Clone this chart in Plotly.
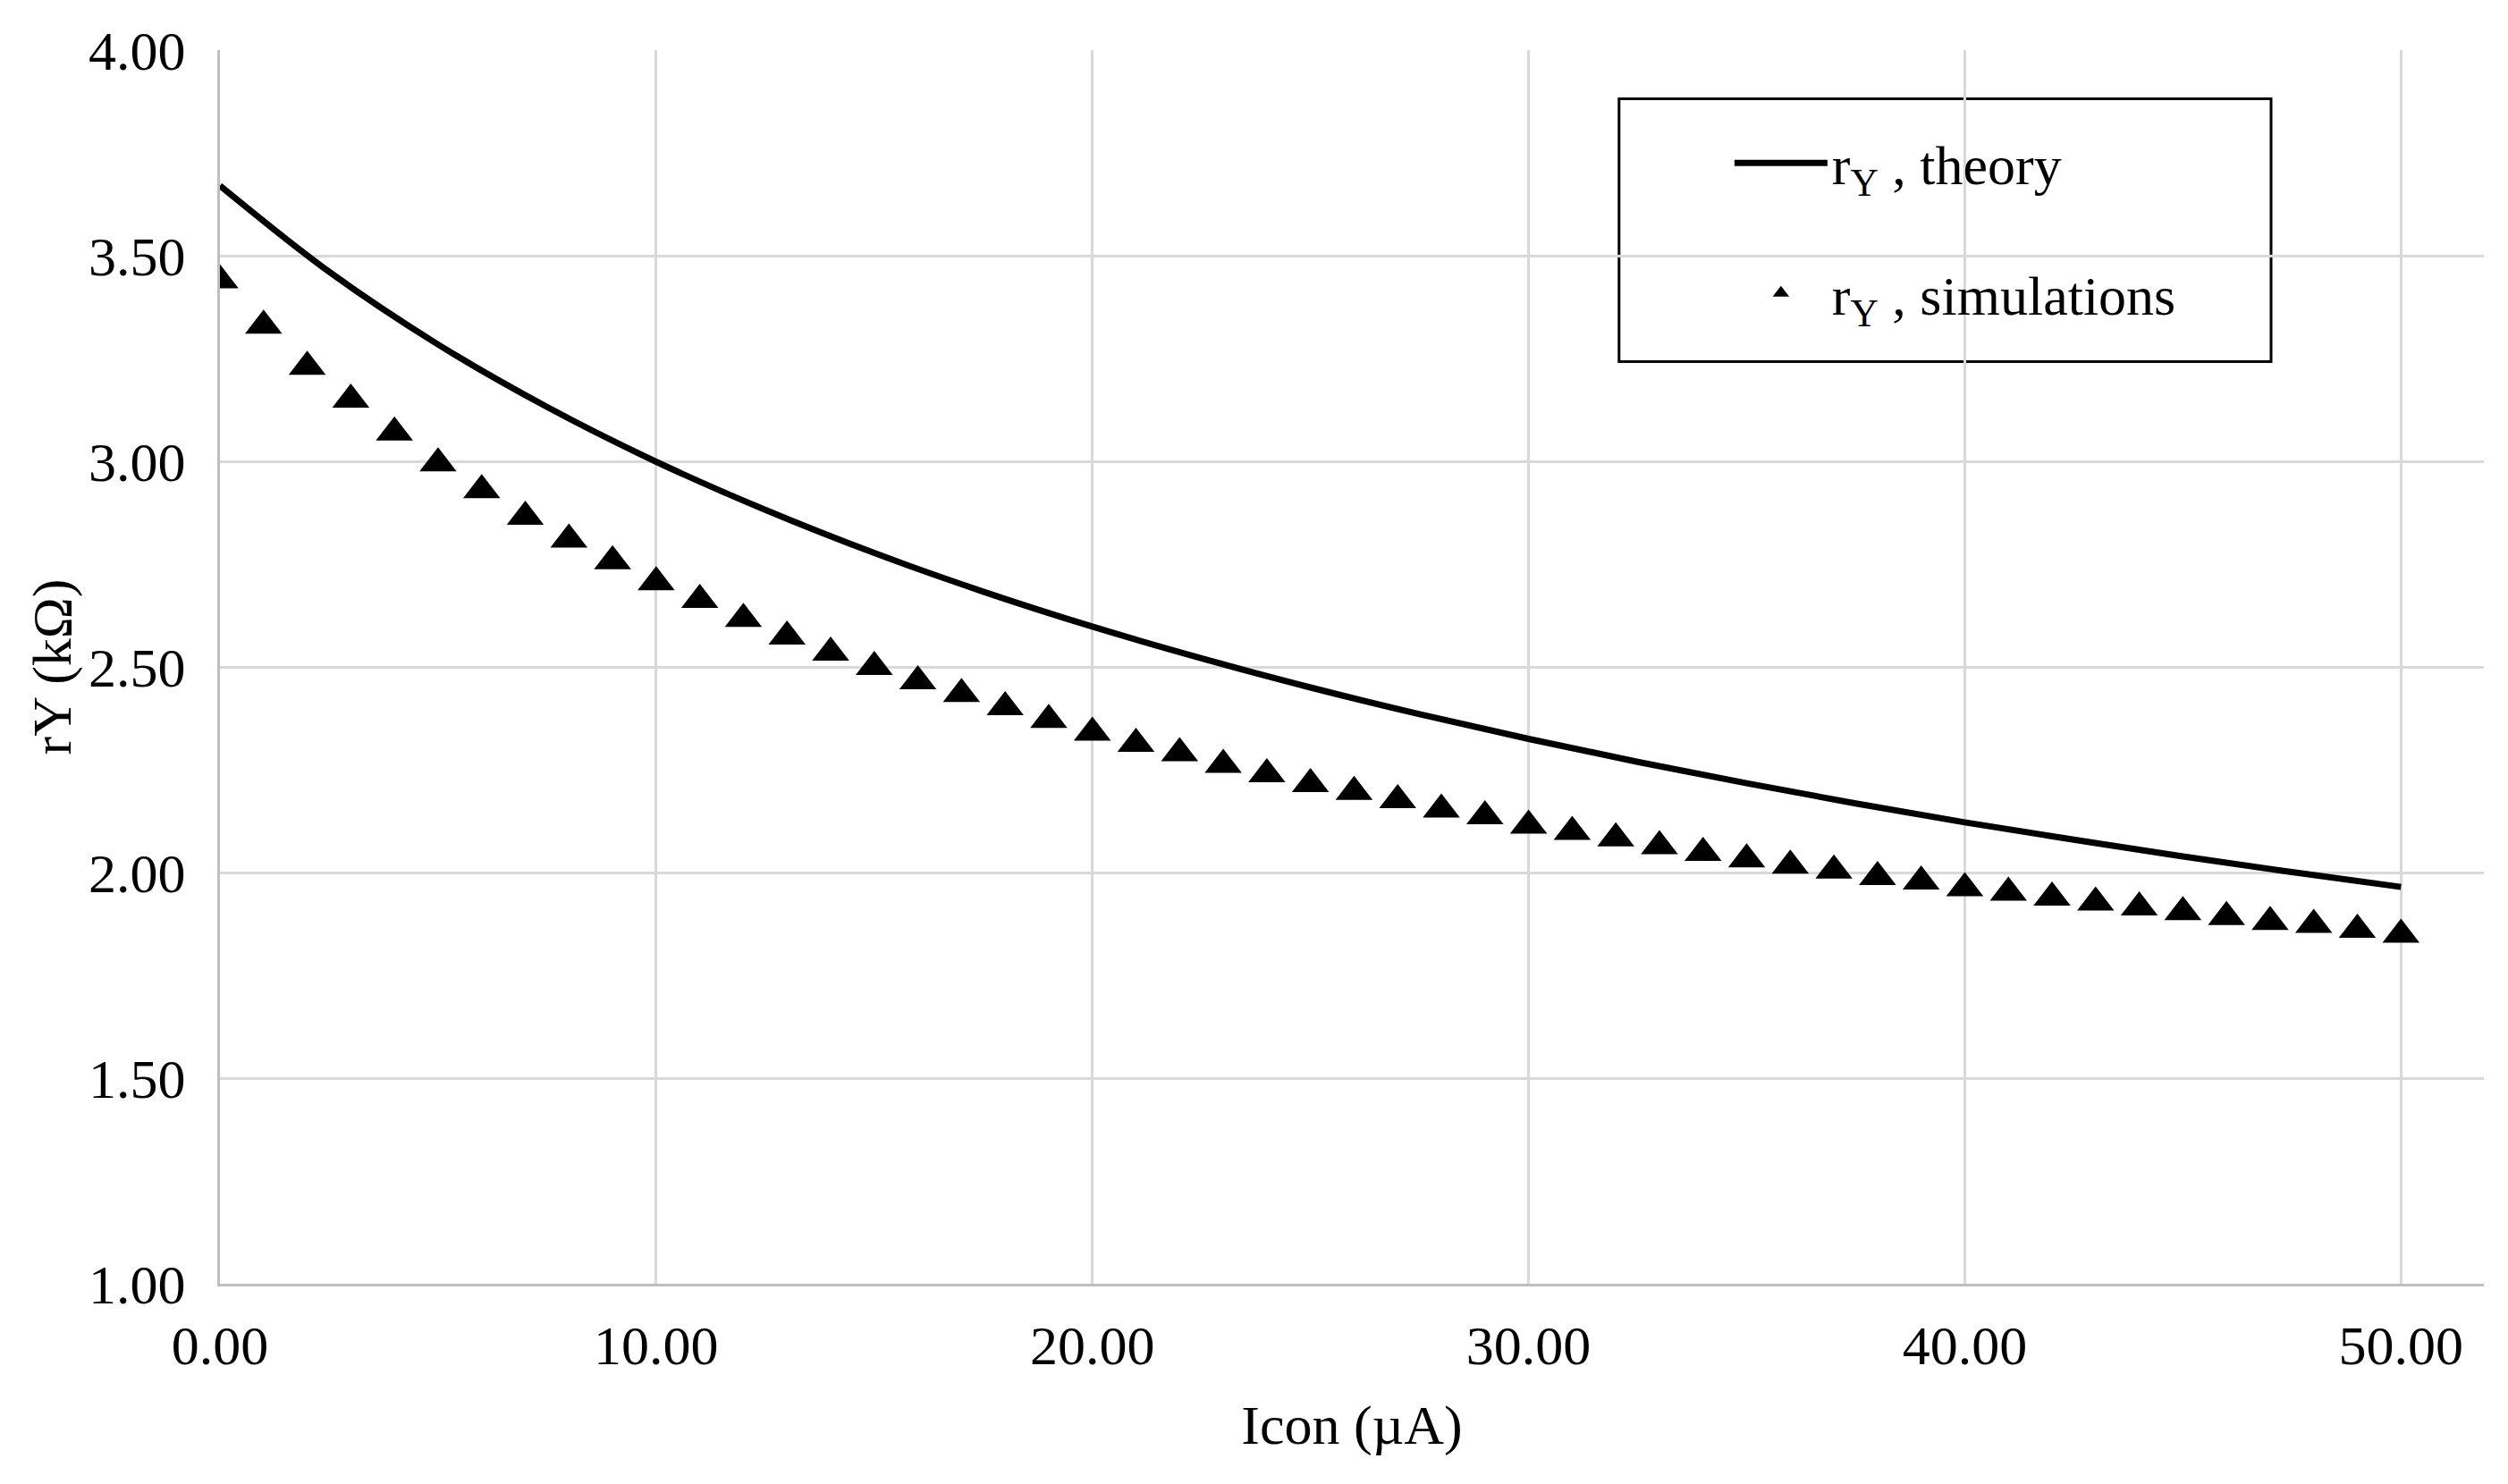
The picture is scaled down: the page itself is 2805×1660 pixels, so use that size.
import plotly.graph_objects as go

# Theory curve
theory_x = [0, 2.5, 5, 7.5, 10, 12.5, 15, 17.5, 20, 22.5, 25, 27.5, 30,
            32.5, 35, 37.5, 40, 42.5, 45, 47.5, 50]
theory_y = [3.670, 3.461, 3.284, 3.132, 2.999, 2.882, 2.777, 2.683, 2.598,
            2.521, 2.450, 2.385, 2.325, 2.269, 2.217, 2.168, 2.122, 2.080,
            2.039, 2.001, 1.965]

# Simulation points
sim_x = list(range(0, 51))
sim_y = [3.44, 3.33, 3.23, 3.15, 3.07, 2.995, 2.93, 2.865, 2.81, 2.757,
         2.706, 2.663, 2.617, 2.574, 2.535, 2.50, 2.465, 2.434, 2.402, 2.371,
         2.34, 2.313, 2.29, 2.262, 2.239, 2.215, 2.196, 2.176, 2.153, 2.137,
         2.114, 2.099, 2.083, 2.064, 2.048, 2.032, 2.017, 2.005, 1.989, 1.978,
         1.962, 1.951, 1.939, 1.927, 1.915, 1.904, 1.892, 1.880, 1.873, 1.861,
         1.849]

x_ticks = [0, 10, 20, 30, 40, 50]
x_ticklabels = ["0.00", "10.00", "20.00", "30.00", "40.00", "50.00"]
y_ticks = [1.0, 1.5, 2.0, 2.5, 3.0, 3.5, 4.0]
y_ticklabels = ["1.00", "1.50", "2.00", "2.50", "3.00", "3.50", "4.00"]

FONT = "Liberation Serif"
fig = go.Figure()
fig.add_trace(go.Scatter(
    x=theory_x, y=theory_y, mode="lines", line=dict(color="black", width=7, shape="spline"),
    name="r<sub>Y</sub> , theory", legendgroup="a"))
fig.add_trace(go.Scatter(
    x=sim_x, y=sim_y, mode="markers",
    marker=dict(symbol="triangle-up", size=36, color="black"),
    name="r<sub>Y</sub> , simulations", legendgroup="b"))

# legend frame (decoration)
fig.add_shape(type="rect", xref="paper", yref="paper",
              x0=0.618, x1=0.906, y0=0.7475, y1=0.9605,
              line=dict(color="black", width=3), fillcolor="white", layer="below")

fig.update_layout(
    width=2805, height=1660,
    paper_bgcolor="white", plot_bgcolor="white",
    margin=dict(l=238, r=35, t=48, b=232),
    font=dict(family=FONT, size=62, color="black"),
    showlegend=True,
    legend=dict(x=0.667, y=0.9425, xanchor="left", yanchor="top",
                borderwidth=0, bgcolor="rgba(0,0,0,0)",
                font=dict(size=62), tracegroupgap=62, itemwidth=104),
    xaxis=dict(range=[0, 51.9], tickvals=x_ticks, ticktext=x_ticklabels,
               showgrid=True, gridcolor="#d9d9d9", gridwidth=3,
               showline=True, linecolor="#bfbfbf", linewidth=3,
               zeroline=False, ticks="", ticklabelstandoff=13,
               title=dict(text="Icon (µA)", font=dict(size=62), standoff=34)),
    yaxis=dict(range=[1, 4], tickvals=y_ticks, ticktext=y_ticklabels,
               showgrid=True, gridcolor="#d9d9d9", gridwidth=3,
               showline=True, linecolor="#bfbfbf", linewidth=3,
               zeroline=False, ticks="", ticklabelstandoff=23,
               title=dict(text="rY (kΩ)", font=dict(size=62), standoff=0)),
)
fig.write_html("out.html")
